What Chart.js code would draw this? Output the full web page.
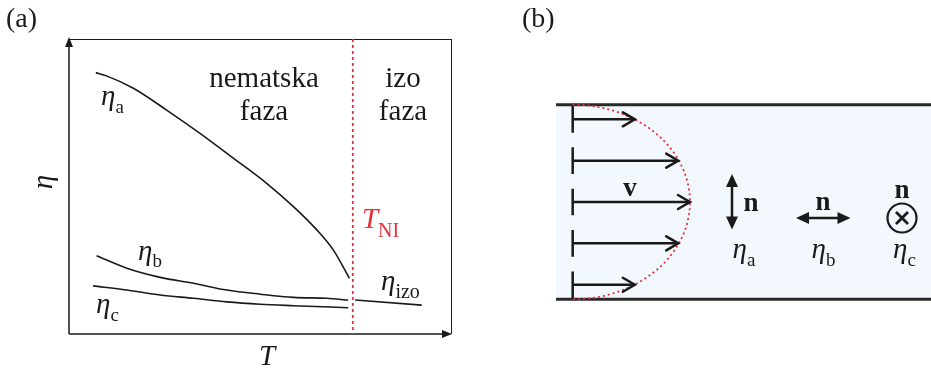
<!DOCTYPE html>
<html>
<head>
<meta charset="utf-8">
<script src="https://cdn.jsdelivr.net/npm/chart.js@4/dist/chart.umd.min.js"></script>
<style>
  html, body { margin: 0; padding: 0; background: #ffffff; }
  #wrap { position: relative; width: 931px; height: 372px; overflow: hidden; }
  canvas { position: absolute; top: 0; }
  #chartA { left: 0; }
  #chartB { left: 490px; }
</style>
</head>
<body>
<div id="wrap">
  <canvas id="chartA" width="470" height="372"></canvas>
  <canvas id="chartB" width="441" height="372"></canvas>
</div>
<script>
// ---- Panel (a): viscosity coefficients vs. temperature (arbitrary units) ----
const tA   = [7.0, 9.8, 16.8, 25.5, 34.2, 42.9, 51.6, 58.6, 64.7, 69.0, 73.2];
const etaA = [88.6, 87.5, 83.3, 75.9, 68.0, 59.6, 51.1, 43.2, 35.3, 28.5, 18.9];
const tB   = [7.2, 15.1, 23.8, 32.5, 41.2, 49.9, 58.6, 67.3, 72.9];
const etaB = [26.5, 22.3, 19.2, 17.2, 14.9, 13.5, 12.4, 12.1, 11.5];
const tC   = [6.3, 15.1, 23.8, 32.5, 41.2, 49.9, 58.6, 72.9];
const etaC = [16.3, 14.9, 13.2, 12.1, 10.9, 10.1, 9.6, 8.9];
const tIzo   = [74.7, 92.1];
const etaIzo = [11.5, 9.8];
const tNI = 74.1;

// ---- Panel (b): Poiseuille flow profile between plates (y = ±1) ----
const profileY = [0.85, 0.425, 0, -0.425, -0.85];
const profileV = [0.53, 0.90, 1.0, 0.90, 0.53];
const plateY = [1, -1];

const SERIF = '"Liberation Serif", "Times New Roman", serif';
const INK = '#1a1a1a';
const RED = '#e8303a';

function pts(xs, ys) { return xs.map((x, i) => ({ x: x, y: ys[i] })); }

function curve(xs, ys) {
  return {
    data: pts(xs, ys),
    borderColor: INK,
    borderWidth: 1.6,
    pointRadius: 0,
    fill: false,
    cubicInterpolationMode: 'monotone'
  };
}

function etaLabel(ctx, x, y, sub, subSize, subDy, color) {
  ctx.save();
  ctx.fillStyle = color || INK;
  ctx.textAlign = 'left';
  ctx.textBaseline = 'alphabetic';
  ctx.font = 'italic 29px ' + SERIF;
  ctx.fillText('η', x, y);
  const w = ctx.measureText('η').width;
  ctx.font = subSize + 'px ' + SERIF;
  ctx.fillText(sub, x + w, y + subDy);
  ctx.restore();
}

function filledHead(ctx, tx, ty, dx, dy, len, half) {
  // tip at (tx,ty), pointing along unit vector (dx,dy)
  const bx = tx - dx * len, by = ty - dy * len;
  ctx.beginPath();
  ctx.moveTo(tx, ty);
  ctx.lineTo(bx - dy * half, by + dx * half);
  ctx.lineTo(bx + dy * half, by - dx * half);
  ctx.closePath();
  ctx.fill();
}

const panelA = {
  id: 'panelA',
  afterDraw(chart) {
    const ctx = chart.ctx;
    const a = chart.chartArea;
    const xs = chart.scales.x;
    ctx.save();
    // frame
    ctx.strokeStyle = INK;
    ctx.lineWidth = 1;
    ctx.beginPath();
    ctx.moveTo(a.left, a.top + 0.5); ctx.lineTo(a.right, a.top + 0.5);
    ctx.moveTo(a.right - 0.5, a.top); ctx.lineTo(a.right - 0.5, a.bottom);
    ctx.stroke();
    ctx.lineWidth = 1.5;
    ctx.beginPath();
    ctx.moveTo(a.left, a.bottom); ctx.lineTo(a.left, a.top + 6);
    ctx.moveTo(a.left, a.bottom); ctx.lineTo(a.right - 6, a.bottom);
    ctx.stroke();
    ctx.fillStyle = INK;
    filledHead(ctx, a.left, a.top - 2, 0, -1, 10, 4);
    filledHead(ctx, a.right, a.bottom, 1, 0, 10, 4);

    // transition temperature
    const xn = xs.getPixelForValue(tNI);
    ctx.strokeStyle = RED;
    ctx.lineWidth = 1.8;
    ctx.setLineDash([3, 3]);
    ctx.beginPath();
    ctx.moveTo(xn, a.top); ctx.lineTo(xn, a.bottom);
    ctx.stroke();
    ctx.setLineDash([]);

    // texts
    ctx.fillStyle = INK;
    ctx.textBaseline = 'alphabetic';
    ctx.textAlign = 'left';
    ctx.font = '28px ' + SERIF;
    ctx.fillText('(a)', 6, 27);
    ctx.textAlign = 'center';
    ctx.font = '29px ' + SERIF;
    ctx.fillText('nematska', 264, 87);
    ctx.fillText('faza', 264, 120);
    ctx.fillText('izo', 403, 87);
    ctx.fillText('faza', 403, 120);

    ctx.font = 'italic 29px ' + SERIF;
    ctx.fillText('T', 267, 365);
    ctx.save();
    ctx.translate(52, 182);
    ctx.rotate(-Math.PI / 2);
    ctx.fillText('η', 0, 0);
    ctx.restore();

    etaLabel(ctx, 101, 105, 'a', 19, 8);
    etaLabel(ctx, 138, 260, 'b', 19, 7);
    etaLabel(ctx, 96, 313, 'c', 19, 8);
    etaLabel(ctx, 381, 290, 'izo', 20, 8);

    ctx.fillStyle = RED;
    ctx.textAlign = 'left';
    ctx.font = 'italic 29px ' + SERIF;
    ctx.fillText('T', 362, 228);
    ctx.font = '20px ' + SERIF;
    ctx.fillText('NI', 378, 237);
    ctx.restore();
  }
};

new Chart(document.getElementById('chartA'), {
  type: 'line',
  data: {
    datasets: [
      curve(tA, etaA),
      curve(tB, etaB),
      curve(tC, etaC),
      curve(tIzo, etaIzo)
    ]
  },
  options: {
    responsive: false,
    animation: false,
    devicePixelRatio: 1,
    layout: { padding: { left: 69, right: 18, top: 39, bottom: 38 } },
    scales: {
      x: { type: 'linear', min: 0, max: 100, display: false },
      y: { type: 'linear', min: 0, max: 100, display: false }
    },
    plugins: { legend: { display: false }, tooltip: { enabled: false } }
  },
  plugins: [panelA]
});

// ---- Panel (b) ----
const xLeft = -0.142, xRight = 3.06;
const dashHalf = 0.137;

const bDatasets = [];
// plates with the fluid between them
bDatasets.push({
  data: [{ x: xLeft, y: plateY[0] }, { x: xRight, y: plateY[0] }],
  borderColor: '#2a2a2a', borderWidth: 3, pointRadius: 0,
  backgroundColor: '#f2f8fd', fill: '+1', order: 2
});
bDatasets.push({
  data: [{ x: xLeft, y: plateY[1] }, { x: xRight, y: plateY[1] }],
  borderColor: '#2a2a2a', borderWidth: 3, pointRadius: 0, fill: false, order: 2
});
// velocity arrows and reference ticks
profileY.forEach((yv, i) => {
  bDatasets.push({
    data: [{ x: 0, y: yv }, { x: profileV[i], y: yv }],
    borderColor: INK, borderWidth: 2.5, pointRadius: 0, fill: false, order: 1,
    isArrow: true
  });
  bDatasets.push({
    data: [{ x: 0, y: yv + dashHalf }, { x: 0, y: yv - dashHalf }],
    borderColor: INK, borderWidth: 2.5, pointRadius: 0, fill: false, order: 1
  });
});

const OX = 490; // page offset of this canvas

const panelB = {
  id: 'panelB',
  afterDatasetsDraw(chart) {
    const ctx = chart.ctx;
    const xs = chart.scales.x, ys = chart.scales.y;
    ctx.save();
    // velocity envelope
    const cx = xs.getPixelForValue(0), cy = ys.getPixelForValue(0);
    const rx = xs.getPixelForValue(1) - cx;
    const ry = ys.getPixelForValue(-1) - cy;
    ctx.strokeStyle = RED;
    ctx.lineWidth = 1.8;
    ctx.setLineDash([2, 3]);
    ctx.beginPath();
    ctx.ellipse(cx, cy, rx, ry, 0, -Math.PI / 2, Math.PI / 2);
    ctx.stroke();
    ctx.setLineDash([]);

    // open arrowheads on velocity arrows
    ctx.strokeStyle = INK;
    ctx.lineWidth = 2.5;
    ctx.lineCap = 'round';
    ctx.lineJoin = 'miter';
    chart.data.datasets.forEach((ds, i) => {
      if (!ds.isArrow) return;
      const meta = chart.getDatasetMeta(i);
      const p = meta.data[meta.data.length - 1];
      ctx.beginPath();
      ctx.moveTo(p.x - 12, p.y - 7);
      ctx.lineTo(p.x, p.y);
      ctx.lineTo(p.x - 12, p.y + 7);
      ctx.stroke();
    });
    ctx.restore();
  },
  afterDraw(chart) {
    const ctx = chart.ctx;
    ctx.save();
    ctx.fillStyle = INK;
    ctx.strokeStyle = INK;
    ctx.textBaseline = 'alphabetic';
    ctx.textAlign = 'left';
    ctx.font = '28px ' + SERIF;
    ctx.fillText('(b)', 522 - OX, 27);

    ctx.textAlign = 'center';
    ctx.font = 'bold 27px ' + SERIF;
    ctx.fillText('v', 630 - OX, 196);
    ctx.fillText('n', 751 - OX, 211);
    ctx.fillText('n', 823 - OX, 210);
    ctx.fillText('n', 902 - OX, 198);

    // director symbols
    ctx.lineWidth = 2.5;
    ctx.beginPath();
    ctx.moveTo(732 - OX, 184); ctx.lineTo(732 - OX, 220);
    ctx.moveTo(805 - OX, 218); ctx.lineTo(841 - OX, 218);
    ctx.stroke();
    filledHead(ctx, 732 - OX, 174, 0, -1, 13, 6);
    filledHead(ctx, 732 - OX, 229.5, 0, 1, 13, 6);
    filledHead(ctx, 796 - OX, 218, -1, 0, 13, 6);
    filledHead(ctx, 850.5 - OX, 218, 1, 0, 13, 6);

    ctx.lineWidth = 2.2;
    ctx.beginPath();
    ctx.arc(902 - OX, 218, 14.5, 0, Math.PI * 2);
    ctx.stroke();
    ctx.lineWidth = 2.8;
    ctx.beginPath();
    ctx.moveTo(896 - OX, 212); ctx.lineTo(908 - OX, 224);
    ctx.moveTo(908 - OX, 212); ctx.lineTo(896 - OX, 224);
    ctx.stroke();

    etaLabel(ctx, 732.5 - OX, 258, 'a', 19, 8);
    etaLabel(ctx, 811.5 - OX, 258, 'b', 19, 8);
    etaLabel(ctx, 893 - OX, 258, 'c', 19, 8);
    ctx.restore();
  }
};

new Chart(document.getElementById('chartB'), {
  type: 'line',
  data: { datasets: bDatasets },
  options: {
    responsive: false,
    animation: false,
    devicePixelRatio: 1,
    layout: { padding: 0 },
    scales: {
      x: { type: 'linear', min: -0.705, max: 3.055, display: false },
      y: { type: 'linear', min: -1.747, max: 2.076, display: false }
    },
    plugins: {
      legend: { display: false },
      tooltip: { enabled: false },
      filler: { drawTime: 'beforeDatasetsDraw' }
    }
  },
  plugins: [panelB]
});
</script>
</body>
</html>
